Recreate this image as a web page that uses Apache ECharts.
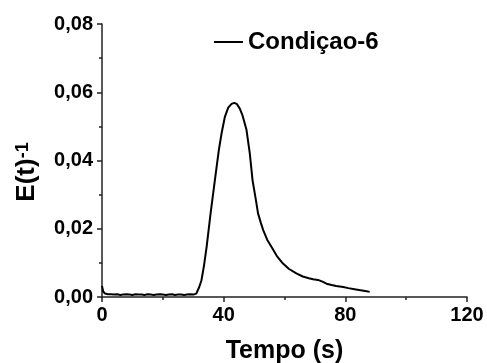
<!DOCTYPE html>
<html>
<head>
<meta charset="utf-8">
<script src="https://cdn.jsdelivr.net/npm/echarts@6/dist/echarts.min.js"></script>
<style>
  html, body { margin: 0; padding: 0; background: #fff; }
  #chart { width: 487px; height: 363px; }
</style>
</head>
<body>
<div id="chart"></div>
<script>
// tempo (s) e E(t)
var tempo = [
  0, 0.4, 1, 2, 3, 4, 5, 6, 7, 8, 9, 10, 11, 12, 13, 14, 15, 16, 17, 18, 19, 20,
  21, 22, 23, 24, 25, 26, 27, 28, 29, 30, 31, 32, 32.7, 33.5, 34.4, 35.7, 37.1,
  38.4, 39.3, 40.4, 41.5, 42.6, 43.5, 44.4, 45.3, 46.2, 47.5, 48.6, 49.5, 50.6,
  51.3, 52.2, 53, 54.3, 55.7, 57.5, 59.5, 61.5, 63.9, 66, 68, 69.4, 71, 72.5,
  73.8, 75.5, 77, 79.3, 81, 83, 85, 87, 88
];
var condicao6 = [
  0.0032, 0.0016, 0.0010, 0.0008, 0.0008, 0.0007, 0.0008, 0.0006, 0.0007, 0.0008,
  0.0007, 0.0006, 0.0008, 0.0007, 0.0007, 0.0006, 0.0008, 0.0007, 0.0006, 0.0007,
  0.0008, 0.0007, 0.0006, 0.0007, 0.0008, 0.0006, 0.0007, 0.0007, 0.0006, 0.0007,
  0.0008, 0.0007, 0.0010, 0.0030, 0.0049, 0.0090, 0.0147, 0.0245, 0.0342,
  0.0430, 0.0479, 0.0528, 0.0555, 0.0566, 0.0569, 0.0565, 0.0552, 0.0532, 0.0490,
  0.0420, 0.0342, 0.0284, 0.0245, 0.0218, 0.0196, 0.0168, 0.0147, 0.0120, 0.0098,
  0.0082, 0.0069, 0.0060, 0.0055, 0.0052, 0.0050, 0.0045, 0.0039, 0.0035, 0.0032,
  0.0029, 0.0026, 0.0023, 0.0020, 0.0017, 0.0015
];
var xTicks = { min: 0, max: 120, step: 40 };
var yTicks = { min: 0, max: 0.08, step: 0.02 };
var nomeSerie = 'Condiçao-6';

var fonte = '"Liberation Sans", Arial, sans-serif';
var dados = tempo.map(function(t, i) { return [t, condicao6[i]]; });

var chart = echarts.init(document.getElementById('chart'), null, { renderer: 'canvas' });

function eixo(min, max, step) {
  return {
    type: 'value',
    min: min,
    max: max,
    interval: step,
    splitLine: { show: false },
    axisLine: { show: true, onZero: false, lineStyle: { color: '#222', width: 1.5 } },
    axisTick: { show: true, inside: false, length: 5, lineStyle: { color: '#222', width: 1.5 } },
    minorTick: { show: true, splitNumber: 2, length: 3, lineStyle: { color: '#222', width: 1.5 } },
    minorSplitLine: { show: false },
    axisLabel: {
      color: '#000',
      fontFamily: fonte,
      fontWeight: 'bold',
      fontSize: 20
    }
  };
}

var xAxis = eixo(xTicks.min, xTicks.max, xTicks.step);
xAxis.axisLabel.margin = 8;
xAxis.name = 'Tempo (s)';
xAxis.nameLocation = 'middle';
xAxis.nameGap = 42;
xAxis.nameTextStyle = { color: '#000', fontFamily: fonte, fontWeight: 'bold', fontSize: 25 };

var yAxis = eixo(yTicks.min, yTicks.max, yTicks.step);
yAxis.axisLabel.margin = 9;
yAxis.axisLabel.formatter = function(v) { return v.toFixed(2).replace('.', ','); };

var option = {
  animation: false,
  backgroundColor: '#fff',
  grid: { left: 102, right: 20, top: 24, bottom: 66, containLabel: false, outerBoundsMode: 'none' },
  legend: {
    data: [nomeSerie],
    left: 214,
    top: 30,
    padding: 0,
    icon: 'rect',
    itemWidth: 29,
    itemHeight: 2,
    itemGap: 4,
    textStyle: { color: '#000', fontFamily: fonte, fontWeight: 'bold', fontSize: 24 }
  },
  xAxis: xAxis,
  yAxis: yAxis,
  graphic: [{
    type: 'text',
    x: 27,
    y: 172,
    rotation: Math.PI / 2,
    style: {
      text: '{a|E(t)}{b|-1}',
      align: 'center',
      verticalAlign: 'middle',
      rich: {
        a: { fontFamily: fonte, fontWeight: 'bold', fontSize: 26, fill: '#000', verticalAlign: 'bottom' },
        b: { fontFamily: fonte, fontWeight: 'bold', fontSize: 18, fill: '#000', verticalAlign: 'top' }
      }
    }
  }],
  series: [{
    name: nomeSerie,
    type: 'line',
    data: dados,
    symbol: 'none',
    smooth: false,
    color: '#000',
    lineStyle: { color: '#000', width: 2 }
  }]
};

chart.setOption(option);
</script>
</body>
</html>
